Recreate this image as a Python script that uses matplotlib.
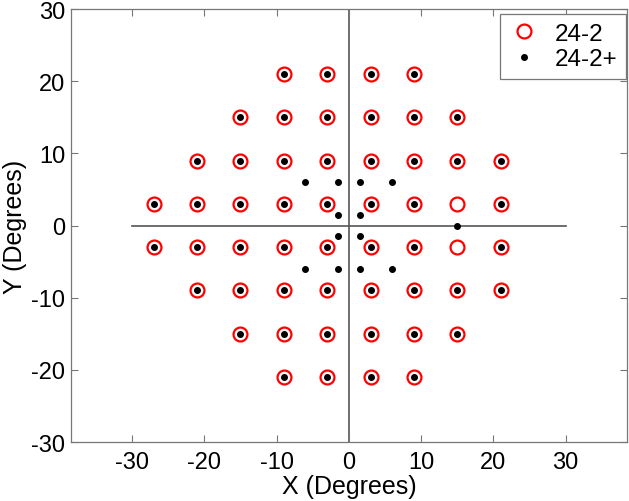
import matplotlib
matplotlib.use("Agg")
import matplotlib.pyplot as plt

plt.rcParams['font.family'] = ['Liberation Sans', 'DejaVu Sans']
plt.rcParams['axes.unicode_minus'] = False

# 24-2 grid (red open circles)
rows_24_2 = {
    21: [-9, -3, 3, 9],
    15: [-15, -9, -3, 3, 9, 15],
    9: [-21, -15, -9, -3, 3, 9, 15, 21],
    3: [-27, -21, -15, -9, -3, 3, 9, 15, 21],
    -3: [-27, -21, -15, -9, -3, 3, 9, 15, 21],
    -9: [-21, -15, -9, -3, 3, 9, 15, 21],
    -15: [-15, -9, -3, 3, 9, 15],
    -21: [-9, -3, 3, 9],
}
x242 = [x for y, xs in rows_24_2.items() for x in xs]
y242 = [y for y, xs in rows_24_2.items() for x in xs]

# 24-2+ (black dots): 24-2 without blind-spot points, plus extra points
blind_spot = [(15, 3), (15, -3)]
extra_x = [-6, -1.5, 1.5, 6, -1.5, 1.5, -1.5, 1.5, -6, -1.5, 1.5, 6, 15]
extra_y = [6, 6, 6, 6, 1.5, 1.5, -1.5, -1.5, -6, -6, -6, -6, 0]
xplus = [x for x, y in zip(x242, y242) if (x, y) not in blind_spot] + extra_x
yplus = [y for x, y in zip(x242, y242) if (x, y) not in blind_spot] + extra_y

xticks = [-30, -20, -10, 0, 10, 20, 30]
yticks = [-30, -20, -10, 0, 10, 20, 30]

fig = plt.figure(figsize=(6.29, 5.02), dpi=100)
ax = fig.add_axes([0.1124, 0.1175, 0.8844, 0.8625])

ax.plot([-30, 30], [0, 0], color='#555555', lw=1.2, zorder=1)
ax.plot([0, 0], [-30, 30], color='#555555', lw=1.2, zorder=1)

ax.plot(x242, y242, 'o', ms=10, mfc='none', mec='#ff0000', mew=1.6, label='24-2', zorder=2)
ax.plot(xplus, yplus, 'o', ms=4, color='black', mec='black', label='24-2+', zorder=3)

ax.set_xlim(-38.5, 38.5)
ax.set_ylim(-30, 30)
ax.set_xticks(xticks)
ax.set_yticks(yticks)
ax.tick_params(direction='in', top=True, right=True, length=5, width=0.8,
               color='#777777', labelsize=17)
ax.tick_params(axis='x', pad=6.5)
ax.tick_params(axis='y', pad=4)
for s in ax.spines.values():
    s.set_color('#777777')
    s.set_linewidth(0.9)

ax.set_xlabel('X (Degrees)', fontsize=18, labelpad=1)
ax.set_ylabel('Y (Degrees)', fontsize=18, labelpad=3)

leg = ax.legend(loc='upper right', fontsize=17.5, frameon=True, fancybox=False,
                edgecolor='#777777', framealpha=1, handletextpad=0.6,
                bbox_to_anchor=(0.998, 0.988), borderaxespad=0.0,
                labelspacing=0.15, handlelength=1.3, borderpad=0.35)
leg.get_frame().set_linewidth(0.9)

fig.savefig('out.png', dpi=100)
